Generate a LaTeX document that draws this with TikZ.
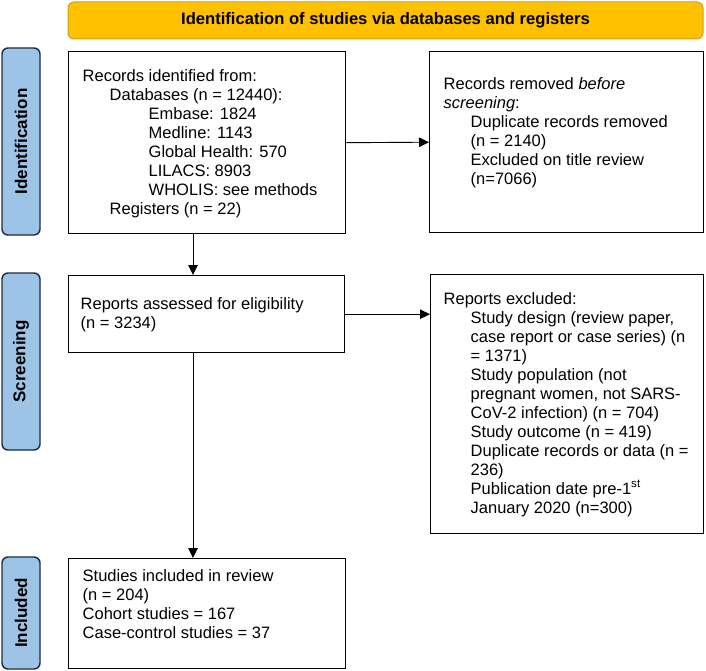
\documentclass[tikz,border=0pt]{standalone}
\usepackage{fontspec}
\setmainfont{Liberation Sans}
\usetikzlibrary{arrows.meta}
\definecolor{bannerfill}{HTML}{FFC000}
\definecolor{bannerdraw}{HTML}{C9A227}
\definecolor{sidefill}{HTML}{9DC3E6}
\definecolor{sidedraw}{HTML}{1E2B3C}
% width, height, pad top, pad left, text
\newcommand\bxtext[5]{\parbox[c][#2pt][t]{#1pt}{\fontsize{16.5}{19}\selectfont\raggedright\leftskip=#4pt\relax\vspace*{#3pt}\strut #5}}
\newcommand\ind[1]{\hspace*{#1pt}}
\tikzset{
  box/.style={draw=black, line width=1.4pt, inner sep=0pt, anchor=north west},
  arr/.style={-{Triangle[length=10pt,width=9.5pt]}, line width=0.9pt},
  side/.style={draw=sidedraw, fill=sidefill, rounded corners=6pt, line width=1.4pt,
    rotate=90, inner sep=0pt, font=\bfseries\fontsize{17}{19}\selectfont},
  banner/.style={draw=bannerdraw, fill=bannerfill, rounded corners=6pt, line width=1pt,
    inner sep=0pt, font=\bfseries\fontsize{16.6}{19}\selectfont}
}
\begin{document}
\begin{tikzpicture}[x=1pt,y=-1pt]
\useasboundingbox (0,0) rectangle (706,671);
\node[banner, minimum width=635pt, minimum height=37pt] (top) at (385.5,20.5)
  {Identification of studies via databases and registers};
\node[side, minimum width=187pt, minimum height=38pt] (sideI) at (21,141.5) {Identification};
\node[side, minimum width=177pt, minimum height=38pt] (sideS) at (21,361.5) {Screening};
\node[side, minimum width=112pt, minimum height=38pt] (sideN) at (21,613) {Included};

\node[box] (b1) at (68,51) {\bxtext{277}{182}{17}{14}{Records identified from:\\
\ind{27}Databases (n = 12440):\\
\ind{66}Embase: 1824\\
\ind{66}Medline: 1143\\
\ind{66}Global Health: 570\\
\ind{66}LILACS: 8903\\
\ind{66}WHOLIS: see methods\\
\ind{27}Registers (n = 22)}};

\node[box] (b2) at (429,51) {\bxtext{274}{181}{25}{14}{Records removed \textit{before}\\
\textit{screening}:\\
\ind{27}Duplicate records removed\\
\ind{27}(n = 2140)\\
\ind{27}Excluded on title review\\
\ind{27}(n=7066)}};

\node[box] (b3) at (68,275) {\bxtext{276}{77}{20}{12}{Reports assessed for eligibility\\
(n = 3234)}};

\node[box] (b4) at (430,274) {\bxtext{273}{259}{16}{13}{Reports excluded:\\
\ind{27}Study design (review paper,\\
\ind{27}case report or case series) (n\\
\ind{27}= 1371)\\
\ind{27}Study population (not\\
\ind{27}pregnant women, not SARS-\\
\ind{27}CoV-2 infection) (n = 704)\\
\ind{27}Study outcome (n = 419)\\
\ind{27}Duplicate records or data (n =\\
\ind{27}236)\\
\ind{27}Publication date pre-1\textsuperscript{st}\\
\ind{27}January 2020 (n=300)}};

\node[box] (b5) at (68,558) {\bxtext{277}{110}{9}{14}{Studies included in review\\
(n = 204)\\
Cohort studies = 167\\
Case-control studies = 37}};

\coordinate (vx) at (193,0);
\draw[arr] (b1.east) -- (b2.west);
\draw[arr] (b1.south -| vx) -- (b3.north -| vx);
\draw[arr] (b3.east) -- (b3.east -| b4.west);
\draw[arr] (b3.south -| vx) -- (b5.north -| vx);
\end{tikzpicture}
\end{document}
